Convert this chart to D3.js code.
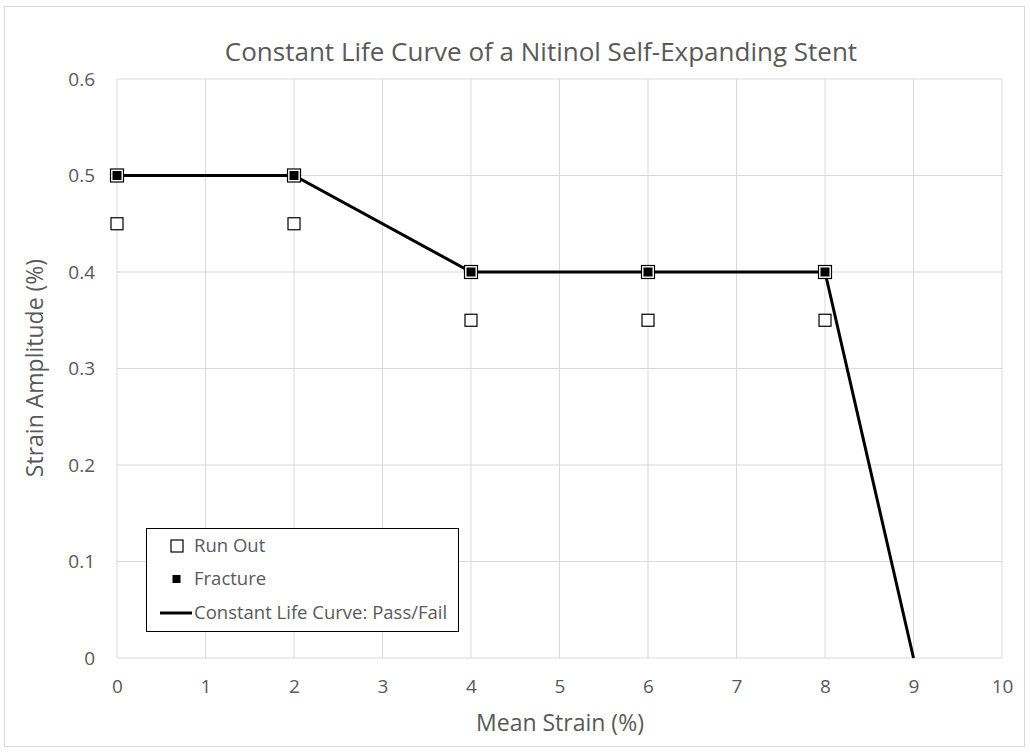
<!DOCTYPE html>
<html><head><meta charset="utf-8">
<script src="https://cdn.jsdelivr.net/npm/d3@7"></script>
<style>body{margin:0;background:#fff}svg{display:block}text{font-family:"Open Sans",sans-serif;fill:#595959}</style>
</head><body>
<svg id="c" width="1030" height="752"></svg>
<script>
const title = "Constant Life Curve of a Nitinol Self-Expanding Stent";
const xLabel = "Mean Strain (%)";
const yLabel = "Strain Amplitude (%)";
const xTicks = [0,1,2,3,4,5,6,7,8,9,10];
const yTicks = [0,0.1,0.2,0.3,0.4,0.5,0.6];
const runOutX = [0,2,4,6,8];
const runOutY = [0.45,0.45,0.35,0.35,0.35];
const fractureX = [0,2,4,6,8];
const fractureY = [0.5,0.5,0.4,0.4,0.4];
const curveX = [0,2,4,8,9];
const curveY = [0.5,0.5,0.4,0.4,0];
const legendLabels = ["Run Out","Fracture","Constant Life Curve: Pass/Fail"];

const svg = d3.select("#c");
svg.append("rect").attr("x",4.5).attr("y",6.5).attr("width",1020).attr("height",740)
  .attr("fill","#fff").attr("stroke","#d9d9d9");
const x = d3.scaleLinear().domain([0,10]).range([117,1002]);
const y = d3.scaleLinear().domain([0,0.6]).range([658,79]);

const g = svg.append("g");
g.selectAll(".gx").data(xTicks).join("line").attr("x1",d=>x(d)).attr("x2",d=>x(d))
  .attr("y1",y(0)).attr("y2",y(0.6)).attr("stroke","#d9d9d9").attr("stroke-width",1);
g.selectAll(".gy").data(yTicks).join("line").attr("y1",d=>y(d)).attr("y2",d=>y(d))
  .attr("x1",x(0)).attr("x2",x(10)).attr("stroke","#d9d9d9").attr("stroke-width",1);

const fmtY = d=> d===0 ? "0" : d3.format(".1f")(d);
const xAxis = d3.axisBottom(x).tickValues(xTicks).tickSize(0).tickPadding(22).tickFormat(d3.format("d"));
const yAxis = d3.axisLeft(y).tickValues(yTicks).tickSize(0).tickPadding(22).tickFormat(fmtY);
const ax = svg.append("g").attr("transform",`translate(0,${y(0)})`).call(xAxis);
const ay = svg.append("g").attr("transform",`translate(${x(0)},0)`).call(yAxis);
[ax,ay].forEach(a=>{a.select(".domain").remove();a.selectAll("text").attr("font-size",19).attr("fill","#595959").style("font-family","'Open Sans',sans-serif");});

const pts = curveX.map((d,i)=>[d,curveY[i]]);
svg.append("path").attr("d",d3.line().x(d=>x(d[0])).y(d=>y(d[1]))(pts))
  .attr("fill","none").attr("stroke","#000").attr("stroke-width",3);

const ro = runOutX.map((d,i)=>[d,runOutY[i]]);
svg.selectAll(".ro").data(ro).join("rect").attr("x",d=>x(d[0])-6).attr("y",d=>y(d[1])-6)
  .attr("width",12).attr("height",12).attr("fill","#fff").attr("stroke","#000").attr("stroke-width",1.2);
const fr = fractureX.map((d,i)=>[d,fractureY[i]]);
svg.selectAll(".fro").data(fr).join("rect").attr("x",d=>x(d[0])-6.5).attr("y",d=>y(d[1])-6.5)
  .attr("width",13).attr("height",13).attr("fill","#fff").attr("stroke","#000").attr("stroke-width",1.2);
svg.selectAll(".fr").data(fr).join("rect").attr("x",d=>x(d[0])-4.5).attr("y",d=>y(d[1])-4.5)
  .attr("width",9).attr("height",9).attr("fill","#000");

svg.append("text").attr("x",541).attr("y",61).attr("text-anchor","middle").attr("font-size",26).text(title);
svg.append("text").attr("x",560).attr("y",731).attr("text-anchor","middle").attr("font-size",23).text(xLabel);
svg.append("text").attr("transform","translate(43,368) rotate(-90)").attr("text-anchor","middle").attr("font-size",23).text(yLabel);

const lg = svg.append("g");
lg.append("rect").attr("x",146.5).attr("y",528.5).attr("width",312).attr("height",103).attr("fill","#fff").attr("stroke","#000");
const ly = [546,579,613];
lg.append("rect").attr("x",171).attr("y",ly[0]-6).attr("width",12).attr("height",12).attr("fill","#fff").attr("stroke","#000").attr("stroke-width",1.2);
lg.append("rect").attr("x",172.5).attr("y",ly[1]-4).attr("width",8).attr("height",8).attr("fill","#000");
lg.append("line").attr("x1",160).attr("x2",192).attr("y1",ly[2]).attr("y2",ly[2]).attr("stroke","#000").attr("stroke-width",3);
lg.selectAll(".lt").data(legendLabels).join("text").attr("x",194).attr("y",(d,i)=>ly[i]+6)
  .attr("font-size",18.5).text(d=>d);
</script>
</body></html>
